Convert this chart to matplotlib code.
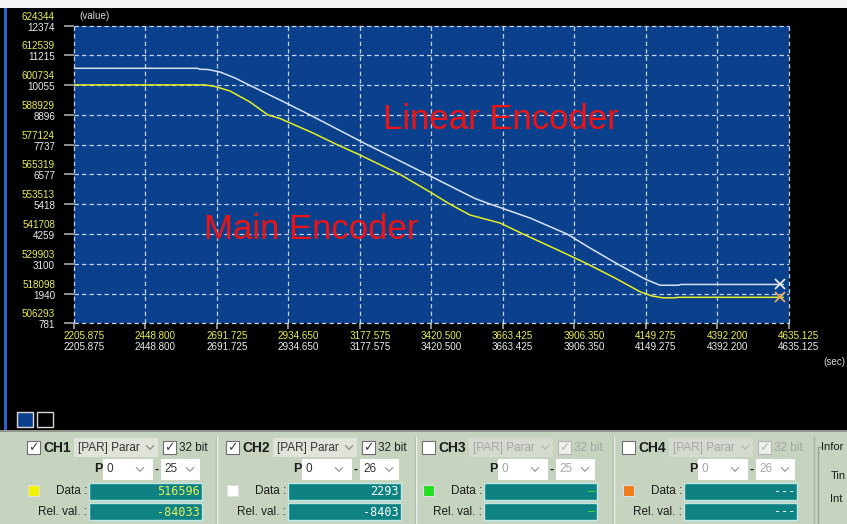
import matplotlib
matplotlib.use("Agg")
import matplotlib.pyplot as plt
from matplotlib.patches import Rectangle
from matplotlib.lines import Line2D
from matplotlib.transforms import blended_transform_factory, ScaledTranslation

plt.rcParams['font.family'] = ['Liberation Sans', 'DejaVu Sans']

# axis ticks (sec, CH2 counts on white scale, CH1 counts on yellow scale)
time_ticks = [2205.875, 2448.800, 2691.725, 2934.650, 3177.575, 3420.500,
              3663.425, 3906.350, 4149.275, 4392.200, 4635.125]
ch2_ticks = [781, 1940, 3100, 4259, 5418, 6577, 7737, 8896, 10055, 11215, 12374]
ch1_ticks = [506293, 518098, 529903, 541708, 553513, 565319, 577124, 588929,
             600734, 612539, 624344]

# CH1 = main encoder (yellow), CH2 = linear encoder (white)
ch1_t = [2205.9, 2651.3, 2685.3, 2736.3, 2804.3, 2865.5, 2906.3, 3018.5, 3100.1,
         3178.3, 3314.3, 3416.3, 3484.3, 3552.3, 3654.3, 3732.5, 3858.3, 3950.1,
         4045.2, 4130.2, 4171.0, 4208.4, 4249.2, 4259.4, 4616.4]
ch1_val = [600800, 600800, 600163, 598379, 594019, 588865, 587478, 581730, 577131,
           573009, 565319, 558342, 553505, 549224, 546053, 541693, 534954, 529919,
           524250, 518820, 517115, 516400, 516400, 516596, 516596]
ch2_t = [2205.9, 2625.0, 2635.0, 2661.5, 2702.3, 2753.3, 2794.1, 2906.3, 3008.3,
         3202.1, 3314.3, 3406.1, 3518.3, 3569.3, 3610.1, 3654.3, 3756.3, 3882.1,
         3960.2, 4052.0, 4147.2, 4198.2, 4259.4, 4269.6, 4616.4]
ch2_val = [10708, 10708, 10669, 10661, 10564, 10330, 10097, 9474, 8890,
           7738, 7099, 6578, 5931, 5639, 5464, 5289, 4880, 4257,
           3712, 3101, 2505, 2262, 2262, 2293, 2293]
cursor_t = 4606.0

# channel panel
channel_names = ['CH1', 'CH2', 'CH3', 'CH4']
channel_enabled = [True, True, False, False]
channel_colors = ['#f2f200', '#ffffff', '#22dd22', '#f07a1c']
p_from = ['0', '0', '0', '0']
p_to = ['25', '26', '25', '26']
data_text = ['516596', '2293', '\u2014', '---']
rel_text = ['-84033', '-8403', '\u2014', '---']
value_colors = ['#e8f25a', '#ffffff', '#3ae03a', '#ffffff']

W, H = 847, 524
fig = plt.figure(figsize=(W / 100, H / 100), dpi=100, facecolor='black')


def fx(x):
    return x / W


def fy(y):
    return 1 - y / H


def box(x0, y0, x1, y1, **kw):
    kw.setdefault('ec', 'none')
    fig.add_artist(Rectangle((fx(x0), fy(y1)), (x1 - x0) / W, (y1 - y0) / H,
                             transform=fig.transFigure, **kw))


def line(xs, ys, **kw):
    fig.add_artist(Line2D([fx(x) for x in xs], [fy(y) for y in ys],
                          transform=fig.transFigure, **kw))


def label(x, y, s, **kw):
    kw.setdefault('va', 'center')
    fig.text(fx(x), fy(y), s, **kw)


def chevron(x, y, color):
    line([x - 3.5, x, x + 3.5], [y - 1.8, y + 1.8, y - 1.8], color=color, lw=0.9)


# ---- scope area ----
ax = fig.add_axes([fx(74), fy(323.3), 714.5 / W, 297.8 / H])
ax.set_facecolor('#0a408c')
ax.set_xlim(time_ticks[0], time_ticks[-1])
ax.set_ylim(ch2_ticks[0], ch2_ticks[-1])
ax.set_xticks(time_ticks)
ax.set_yticks(ch2_ticks)
ax.grid(True, color='#c4d4ee', lw=0.9, ls=(0, (3.5, 2.5)), clip_on=False)
for s in ax.spines.values():
    s.set_visible(False)
ax.tick_params(axis='y', left=True, right=True, length=7, width=1.2,
               color='#a8a8a8', labelleft=False, labelright=False)
ax.tick_params(axis='x', bottom=True, length=4, width=1.2,
               color='#a8a8a8', labelbottom=False)
ax.yaxis.get_major_ticks()[8].tick1line.set_color('white')

ax2 = ax.twinx()
ax2.set_ylim(ch1_ticks[0], ch1_ticks[-1])
ax2.set_yticks([])
for s in ax2.spines.values():
    s.set_visible(False)

ax.plot(ch2_t, ch2_val, color='#d6e2f0', lw=1.1)
ax2.plot(ch1_t, ch1_val, color='#e4ee24', lw=1.1)
ax.plot(cursor_t, ch2_val[-1], marker='x', ms=7, mew=1.2, color='#f0f0f0')
ax2.plot(cursor_t, ch1_val[-1], marker='x', ms=7, mew=1.2, color='#f4b060')

# tick labels: yellow (CH1) above white (CH2)
tick_font = dict(fontsize=7.1, clip_on=False)
t_white = blended_transform_factory(fig.transFigure, ax.transData) + \
    ScaledTranslation(0, -2 / 100, fig.dpi_scale_trans)
t_yellow = blended_transform_factory(fig.transFigure, ax2.transData) + \
    ScaledTranslation(0, 9 / 100, fig.dpi_scale_trans)
for v2, v1 in zip(ch2_ticks, ch1_ticks):
    ax.text(fx(55), v2, str(v2), transform=t_white, ha='right', va='center',
            color='#ececec', **tick_font)
    ax.text(fx(55), v1, str(v1), transform=t_yellow, ha='right', va='center',
            color='#ecec5a', **tick_font)
t_x = blended_transform_factory(ax.transData, fig.transFigure) + \
    ScaledTranslation(10 / 100, 0, fig.dpi_scale_trans)
for t in time_ticks:
    ax.text(t, fy(336), f'{t:.3f}', transform=t_x, ha='center', va='center',
            color='#ecec5a', **tick_font)
    ax.text(t, fy(346.5), f'{t:.3f}', transform=t_x, ha='center', va='center',
            color='#ececec', **tick_font)

label(79, 16, '(value)', color='#d8d8d8', fontsize=7.1)
label(834, 362, '(sec)', color='#d8d8d8', fontsize=7.1, ha='center')

label(383, 129.3, 'Linear Encoder', color='#ee1414', fontsize=25, va='baseline')
label(204, 238.5, 'Main Encoder', color='#ee1414', fontsize=25, va='baseline')

# window frame
box(0, 0, W, 8, fc='#f4f4f4')
box(4, 8, 7, 431, fc='#2b62c8')
box(17, 412, 33, 427, fc='#0a408c', ec='#d8d8d8', lw=1)
box(37, 412, 53, 427, fc='black', ec='#d8d8d8', lw=1)

# ---- channel panel ----
box(0, 431, W, H, fc='#c6d3bf')
box(0, 429.5, W, 432, fc='#8e978a')
for sx in [216, 415, 613]:
    line([sx, sx], [437, H], color='#a9b2a4', lw=1)
    line([sx + 1, sx + 1], [437, H], color='#eef2ea', lw=1)

for bx, name, on, col, p0, p1, dt, rt, vc in zip(
        [27, 226, 422, 622], channel_names, channel_enabled, channel_colors,
        p_from, p_to, data_text, rel_text, value_colors):
    dim = '#a6a6a6'
    # row 1: enable box, name, source combo, 32 bit
    box(bx, 441, bx + 13, 454, fc='white', ec='#6e6e6e', lw=0.8)
    if on:
        label(bx + 6.5, 447.5, '\u2713', ha='center', fontsize=9,
              color='#404040', family='DejaVu Sans')
    label(bx + 16, 448, name, fontsize=10, fontweight='bold', color='#1c1c1c')
    box(bx + 47, 438, bx + 131, 457, fc='#dfe3da' if on else '#d4dacf')
    label(bx + 51, 447.5, '[PAR] Parar', fontsize=8.5,
          color='#333333' if on else dim)
    chevron(bx + 123, 447.5, '#8a8a8a' if on else '#b8b8b8')
    box(bx + 136, 441, bx + 149, 454, fc='white' if on else '#eef0ec',
        ec='#6e6e6e' if on else '#b4b4b4', lw=0.8)
    label(bx + 142.5, 447.5, '\u2713', ha='center', fontsize=9,
          color='#404040' if on else '#b4b4b4', family='DejaVu Sans')
    label(bx + 152, 448, '32 bit', fontsize=8.5, color='#222222' if on else dim)

    # row 2: bit range
    label(bx + 75, 469.5, 'P', fontsize=9, fontweight='bold', ha='right',
          color='#1c1c1c')
    box(bx + 76, 459, bx + 126, 480, fc='white')
    label(bx + 79, 469.5, p0, fontsize=8.5, color='#333333' if on else dim)
    chevron(bx + 113, 469.5, '#9a9a9a')
    label(bx + 130, 469.5, '-', fontsize=9, fontweight='bold', ha='center',
          color='#1c1c1c')
    box(bx + 134, 459, bx + 173, 480, fc='white')
    label(bx + 137, 469.5, p1, fontsize=8.5, color='#333333' if on else dim)
    chevron(bx + 163, 469.5, '#9a9a9a')

    # rows 3-4: data readouts
    box(bx + 1, 485, bx + 12, 496, fc=col, ec='#e0e0e0', lw=0.8)
    label(bx + 60, 491, 'Data :', fontsize=8.5, ha='right', color='#1c1c1c')
    box(bx + 62, 483, bx + 175, 500, fc='#0e8282', ec='#bfe8e8', lw=1)
    label(bx + 173, 491.5, dt, fontsize=8.5, ha='right', color=vc,
          family='DejaVu Sans Mono')
    label(bx + 60, 512, 'Rel. val. :', fontsize=8.5, ha='right', color='#1c1c1c')
    box(bx + 62, 503, bx + 175, 520, fc='#0e8282', ec='#bfe8e8', lw=1)
    label(bx + 173, 512, rt, fontsize=8.5, ha='right', color=vc,
          family='DejaVu Sans Mono')

# information group (only its left edge is in view)
line([814, 814], [437, H], color='#a9b2a4', lw=1)
line([818, 818, 821], [H, 447, 447], color='#9aa296', lw=1)
label(821, 447, 'Infor', fontsize=8, color='#1c1c1c')
label(831, 476, 'Tin', fontsize=8, color='#1c1c1c')
label(830, 499, 'Int', fontsize=8, color='#1c1c1c')

fig.savefig('out.png', dpi=100, facecolor=fig.get_facecolor())
